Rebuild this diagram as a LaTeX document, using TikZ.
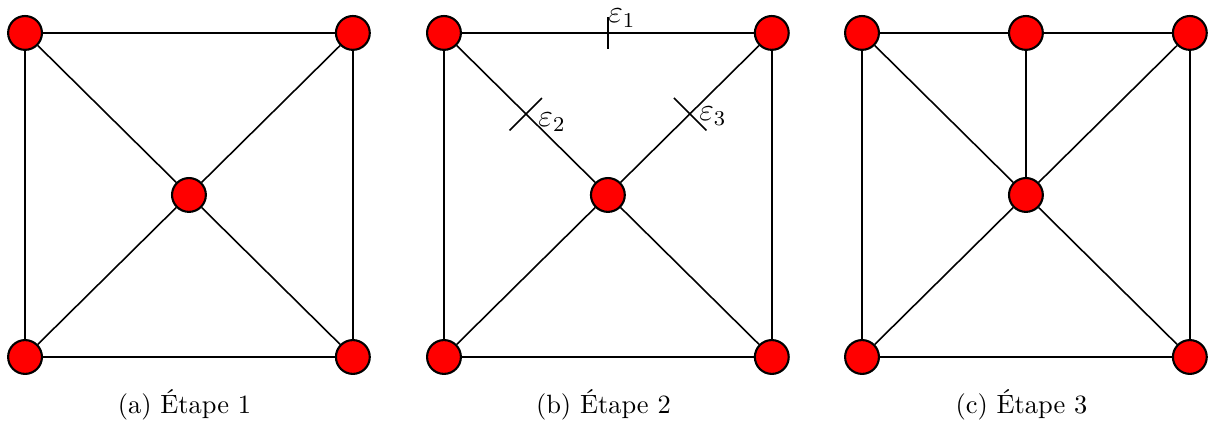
\documentclass[tikz,border=0pt]{standalone}
\usepackage{tikz}
\usetikzlibrary{calc}

\begin{document}
\begin{tikzpicture}[
    font=\normalsize,
    vertex/.style={
        circle,
        draw=black,
        fill=red,
        line width=0.8pt,
        minimum size=0.45cm,
        inner sep=0pt
    },
    edge/.style={line width=0.6pt},
    tickmark/.style={line width=0.6pt},
    lbl/.style={anchor=base west, inner sep=0pt, font=\large},
    caption/.style={anchor=base}
]
\useasboundingbox (-0.333,-0.878) rectangle (15.787,4.748);

\def\w{4.36}
\def\h{4.31}
\def\xa{0}
\def\xb{5.572}
\def\xc{11.132}

% Panel (a)
\node[vertex] (a-nw) at (\xa, \h) {};
\node[vertex] (a-ne) at (\xa+\w, \h) {};
\node[vertex] (a-sw) at (\xa, 0) {};
\node[vertex] (a-se) at (\xa+\w, 0) {};
\node[vertex] (a-c)  at (\xa+\w/2, \h/2) {};

\draw[edge] (a-nw) -- (a-ne);
\draw[edge] (a-ne) -- (a-se);
\draw[edge] (a-se) -- (a-sw);
\draw[edge] (a-sw) -- (a-nw);
\draw[edge] (a-nw) -- (a-c);
\draw[edge] (a-ne) -- (a-c);
\draw[edge] (a-sw) -- (a-c);
\draw[edge] (a-se) -- (a-c);

\node[caption] (a-cap) at (\xa+\w/2-0.06, -0.758) {(a) Étape 1};

% Panel (b)
\node[vertex] (b-nw) at (\xb, \h) {};
\node[vertex] (b-ne) at (\xb+\w, \h) {};
\node[vertex] (b-sw) at (\xb, 0) {};
\node[vertex] (b-se) at (\xb+\w, 0) {};
\node[vertex] (b-c)  at (\xb+\w/2, \h/2) {};

\draw[edge] (b-nw) -- (b-ne);
\draw[edge] (b-ne) -- (b-se);
\draw[edge] (b-se) -- (b-sw);
\draw[edge] (b-sw) -- (b-nw);
\draw[edge] (b-nw) -- (b-c);
\draw[edge] (b-ne) -- (b-c);
\draw[edge] (b-sw) -- (b-c);
\draw[edge] (b-se) -- (b-c);

% cut marks
\coordinate (e1) at ($(b-nw)!0.5!(b-ne)$);
\coordinate (e2) at ($(b-nw)!0.5!(b-c)$);
\coordinate (e3) at ($(b-ne)!0.5!(b-c)$);

\draw[tickmark] ($(e1)+(0,-0.213)$) -- ($(e1)+(0,0.213)$);
\draw[tickmark] ($(e2)+(225:0.31)$) -- ($(e2)+(45:0.3)$);
\draw[tickmark] ($(e3)+(135:0.3)$) -- ($(e3)+(-45:0.31)$);

\node[lbl] (e1-lbl) at ($(e1)+(0,0.133)$) {$\varepsilon_1$};
\node[lbl] (e2-lbl) at ($(e2)+(0.16,-0.17)$) {$\varepsilon_2$};
\node[lbl] (e3-lbl) at ($(e3)+(0.12,-0.09)$) {$\varepsilon_3$};

\node[caption] (b-cap) at (\xb+\w/2-0.06, -0.758) {(b) Étape 2};

% Panel (c)
\node[vertex] (c-nw) at (\xc, \h) {};
\node[vertex] (c-n)  at (\xc+\w/2, \h) {};
\node[vertex] (c-ne) at (\xc+\w, \h) {};
\node[vertex] (c-sw) at (\xc, 0) {};
\node[vertex] (c-se) at (\xc+\w, 0) {};
\node[vertex] (c-c)  at (\xc+\w/2, \h/2) {};

\draw[edge] (c-nw) -- (c-n);
\draw[edge] (c-n) -- (c-ne);
\draw[edge] (c-ne) -- (c-se);
\draw[edge] (c-se) -- (c-sw);
\draw[edge] (c-sw) -- (c-nw);
\draw[edge] (c-nw) -- (c-c);
\draw[edge] (c-n) -- (c-c);
\draw[edge] (c-ne) -- (c-c);
\draw[edge] (c-sw) -- (c-c);
\draw[edge] (c-se) -- (c-c);

\node[caption] (c-cap) at (\xc+\w/2-0.06, -0.758) {(c) Étape 3};

\end{tikzpicture}
\end{document}
